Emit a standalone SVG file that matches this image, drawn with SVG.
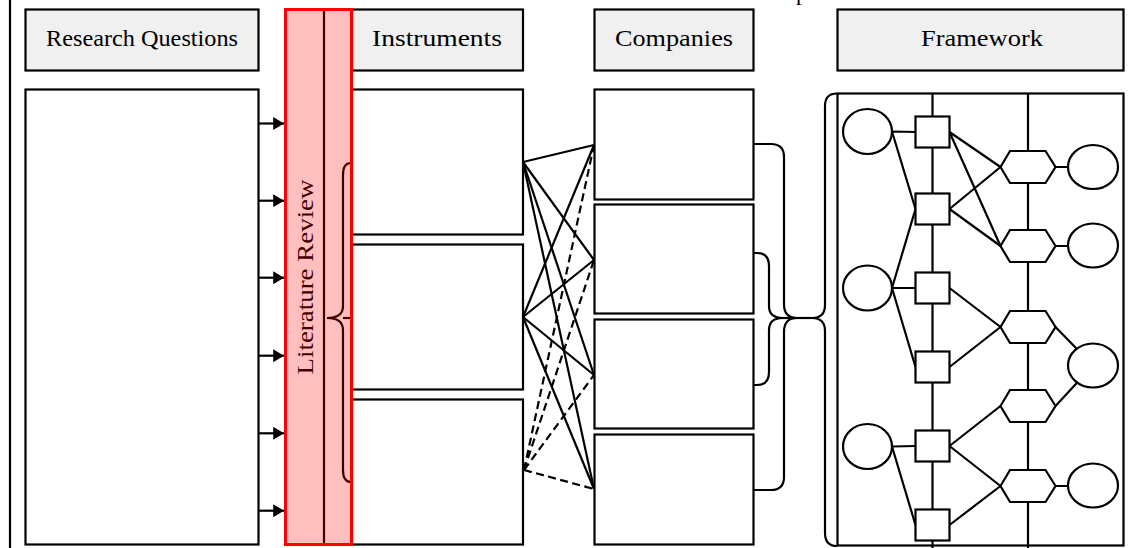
<svg xmlns="http://www.w3.org/2000/svg" width="1132" height="548" viewBox="0 0 1132 548">
  <style>
    .hdr { fill: #f0f0f0; stroke: #000; stroke-width: 2.2; }
    .box { fill: #fff; stroke: #000; stroke-width: 2.2; }
    .lbl { font-family: "Liberation Serif", "DejaVu Serif", serif; font-size: 22.5px; fill: #000; }
    .ln { fill: none; stroke: #000; stroke-width: 2.2; }
    .dash { fill: none; stroke: #000; stroke-width: 2.2; stroke-dasharray: 8 4.5; }
    .nd { fill: #fff; stroke: #000; stroke-width: 2.2; }
  </style>
  <defs>
    <marker id="arr" viewBox="0 0 10 12" refX="10" refY="6" markerWidth="11.5" markerHeight="13" markerUnits="userSpaceOnUse" orient="auto">
      <path d="M0,0 L10,6 L0,12 Z" fill="#000"/>
    </marker>
  </defs>

  <rect width="1132" height="548" fill="#fff"/>

  <!-- page margin rule and cut-off caption -->
  <line x1="10" y1="0" x2="10" y2="548" class="ln"/>
  <text x="796" y="0" class="lbl">p</text>

  <!-- column headers -->
  <g id="hdr-research">
    <rect x="25.5" y="9.5" width="233" height="61" class="hdr"/>
    <text x="142" y="46" class="lbl" text-anchor="middle" textLength="192" lengthAdjust="spacingAndGlyphs">Research Questions</text>
  </g>
  <g id="hdr-instruments">
    <rect x="352" y="9.5" width="171" height="61" class="hdr"/>
    <text x="437" y="46" class="lbl" text-anchor="middle" textLength="130" lengthAdjust="spacingAndGlyphs">Instruments</text>
  </g>
  <g id="hdr-companies">
    <rect x="594.5" y="9.5" width="159" height="61" class="hdr"/>
    <text x="674" y="46" class="lbl" text-anchor="middle" textLength="118" lengthAdjust="spacingAndGlyphs">Companies</text>
  </g>
  <g id="hdr-framework">
    <rect x="837.5" y="9.5" width="286" height="61" class="hdr"/>
    <text x="982" y="46" class="lbl" text-anchor="middle" textLength="122" lengthAdjust="spacingAndGlyphs">Framework</text>
  </g>

  <!-- research questions panel -->
  <g id="research-questions">
    <rect x="25.5" y="89.5" width="233" height="455" class="box"/>
  </g>

  <!-- instrument boxes -->
  <g id="instrument-1"><rect x="352" y="89.5" width="171" height="145" class="box"/></g>
  <g id="instrument-2"><rect x="352" y="244.5" width="171" height="145" class="box"/></g>
  <g id="instrument-3"><rect x="352" y="399.5" width="171" height="145" class="box"/></g>

  <!-- company boxes -->
  <g id="company-1"><rect x="594.5" y="89.5" width="159" height="110" class="box"/></g>
  <g id="company-2"><rect x="594.5" y="204.5" width="159" height="109" class="box"/></g>
  <g id="company-3"><rect x="594.5" y="319.5" width="159" height="109" class="box"/></g>
  <g id="company-4"><rect x="594.5" y="434.5" width="159" height="110" class="box"/></g>

  <!-- framework frame with column rules -->
  <g id="framework-frame">
    <rect x="837.5" y="93.5" width="286" height="452" class="box"/>
    <line x1="932.5" y1="93.5" x2="932.5" y2="548" class="ln"/>
    <line x1="1028" y1="93.5" x2="1028" y2="548" class="ln"/>
  </g>

  <g id="connectors">
    <!-- research questions feed the literature review -->
    <line x1="258" y1="123.5" x2="284" y2="123.5" class="ln" marker-end="url(#arr)"/>
    <line x1="258" y1="200.7" x2="284" y2="200.7" class="ln" marker-end="url(#arr)"/>
    <line x1="258" y1="277.7" x2="284" y2="277.7" class="ln" marker-end="url(#arr)"/>
    <line x1="258" y1="355.7" x2="284" y2="355.7" class="ln" marker-end="url(#arr)"/>
    <line x1="258" y1="433.3" x2="284" y2="433.3" class="ln" marker-end="url(#arr)"/>
    <line x1="258" y1="510.7" x2="284" y2="510.7" class="ln" marker-end="url(#arr)"/>

    <!-- instruments to companies -->
    <line x1="523" y1="162" x2="594" y2="145" class="ln"/>
    <line x1="523" y1="162" x2="594" y2="260" class="ln"/>
    <line x1="523" y1="162" x2="594" y2="375" class="ln"/>
    <line x1="523" y1="162" x2="594" y2="489" class="ln"/>
    <line x1="523" y1="317" x2="594" y2="145" class="ln"/>
    <line x1="523" y1="317" x2="594" y2="260" class="ln"/>
    <line x1="523" y1="317" x2="594" y2="375" class="ln"/>
    <line x1="523" y1="317" x2="594" y2="489" class="ln"/>
    <line x1="524" y1="470" x2="594" y2="145" class="dash"/>
    <line x1="524" y1="470" x2="594" y2="260" class="dash"/>
    <line x1="524" y1="470" x2="594" y2="375" class="dash"/>
    <line x1="524" y1="470" x2="594" y2="489" class="dash"/>

    <!-- braces grouping companies into the framework -->
    <path d="M753,144 L771,144 Q784,144 784,157 L784,304 Q784,318 797,318 Q784,318 784,332 L784,477 Q784,490 771,490 L753,490" class="ln"/>
    <path d="M753,253 L757,253 Q769,253 769,266 L769,306 Q769,318 783,318 Q769,318 769,330 L769,372 Q769,385 757,385 L753,385" class="ln"/>
    <path d="M837,93.5 Q825,93.5 825,106 L825,305 Q825,318 812,318 Q825,318 825,331 L825,533 Q825,546 837,546" class="ln"/>
    <line x1="783" y1="318" x2="812" y2="318" class="ln"/>

    <!-- framework links -->
    <path d="M892,131.5 L915.5,132 M892,131.5 L915.5,209" class="ln"/>
    <path d="M892,288 L915.5,209 M892,288 L915.5,288 M892,288 L915.5,367" class="ln"/>
    <path d="M892,446.5 L915.5,446 M892,446.5 L915.5,525" class="ln"/>
    <path d="M949.5,132 L1000.5,167 M949.5,132 L1000.5,246" class="ln"/>
    <path d="M949.5,209 L1000.5,167 M949.5,209 L1000.5,246" class="ln"/>
    <path d="M949.5,288 L1000.5,327 M949.5,367 L1000.5,327" class="ln"/>
    <path d="M949.5,446 L1000.5,406 M949.5,446 L1000.5,486 M949.5,525 L1000.5,486" class="ln"/>
    <path d="M1055.5,167 L1070,167 M1055.5,246 L1070,246 M1055.5,486 L1070,486" class="ln"/>
    <path d="M1055.5,327 L1093,365.5 M1055.5,406 L1093,365.5" class="ln"/>
  </g>

  <!-- framework nodes -->
  <g id="fw-in-1"><ellipse cx="867.5" cy="131.5" rx="24.5" ry="22.5" class="nd"/></g>
  <g id="fw-in-2"><ellipse cx="867.5" cy="288" rx="24.5" ry="22.5" class="nd"/></g>
  <g id="fw-in-3"><ellipse cx="867.5" cy="446.5" rx="24.5" ry="22.5" class="nd"/></g>

  <g id="fw-sq-1"><rect x="915.5" y="116.5" width="34" height="31" class="nd"/></g>
  <g id="fw-sq-2"><rect x="915.5" y="193.5" width="34" height="31" class="nd"/></g>
  <g id="fw-sq-3"><rect x="915.5" y="272.5" width="34" height="31" class="nd"/></g>
  <g id="fw-sq-4"><rect x="915.5" y="351.5" width="34" height="31" class="nd"/></g>
  <g id="fw-sq-5"><rect x="915.5" y="430.5" width="34" height="31" class="nd"/></g>
  <g id="fw-sq-6"><rect x="915.5" y="509.5" width="34" height="31" class="nd"/></g>

  <g id="fw-hex-1"><polygon points="1000.5,167 1010,151 1045.5,151 1055.5,167 1045.5,183 1010,183" class="nd"/></g>
  <g id="fw-hex-2"><polygon points="1000.5,246 1010,230 1045.5,230 1055.5,246 1045.5,262 1010,262" class="nd"/></g>
  <g id="fw-hex-3"><polygon points="1000.5,327 1010,311 1045.5,311 1055.5,327 1045.5,343 1010,343" class="nd"/></g>
  <g id="fw-hex-4"><polygon points="1000.5,406 1010,390 1045.5,390 1055.5,406 1045.5,422 1010,422" class="nd"/></g>
  <g id="fw-hex-5"><polygon points="1000.5,486 1010,470 1045.5,470 1055.5,486 1045.5,502 1010,502" class="nd"/></g>

  <g id="fw-out-1"><ellipse cx="1093" cy="167" rx="25" ry="22" class="nd"/></g>
  <g id="fw-out-2"><ellipse cx="1093" cy="245.5" rx="25" ry="22" class="nd"/></g>
  <g id="fw-out-3"><ellipse cx="1093" cy="365.5" rx="25" ry="22" class="nd"/></g>
  <g id="fw-out-4"><ellipse cx="1093" cy="485.5" rx="25" ry="22" class="nd"/></g>

  <!-- literature review band: content underneath, translucent red on top -->
  <g id="literature-review">
    <line x1="324" y1="9" x2="324" y2="545" stroke="#000" stroke-width="2.2"/>
    <path d="M351,163 Q343,163 343,175 L343,306 Q343,318 327,318 Q343,318 343,330 L343,470 Q343,482 351,482" class="ln"/>
    <line x1="343" y1="318" x2="352" y2="318" class="ln"/>
    <text transform="rotate(-90 313 277)" x="313" y="277" class="lbl" text-anchor="middle" textLength="195" lengthAdjust="spacingAndGlyphs">Literature Review</text>
    <rect x="285.5" y="9.5" width="66" height="535" fill="#ff0000" fill-opacity="0.25" stroke="#ff0000" stroke-width="3"/>
  </g>
</svg>
